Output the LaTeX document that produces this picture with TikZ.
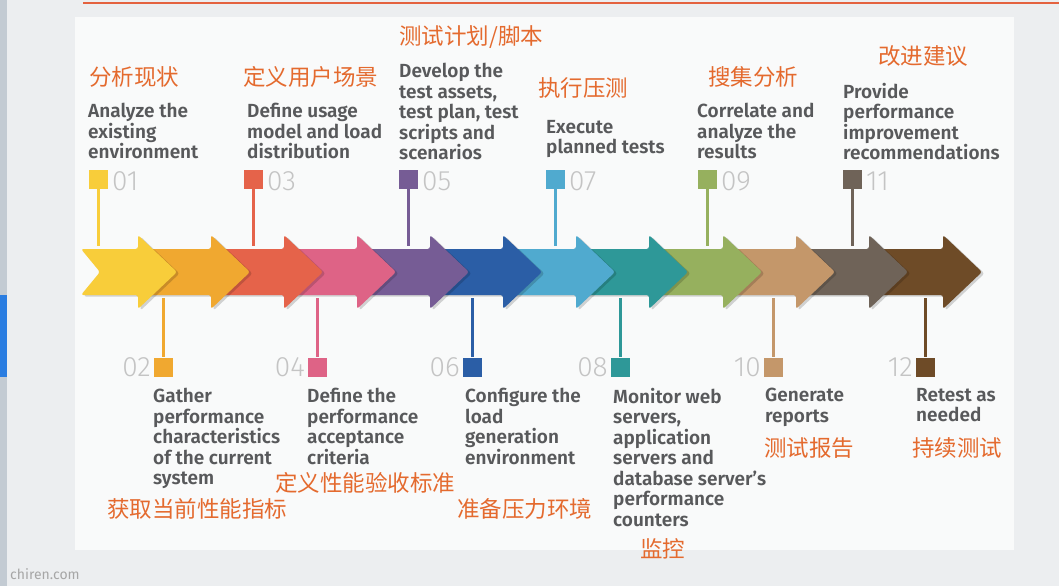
\documentclass[tikz,border=0pt]{standalone}
\usepackage{fontspec}
\setmainfont{Fira Sans}[BoldFont={* SemiBold}]
\newfontfamily\cjk{Noto Sans CJK SC}
\newfontfamily\numfont{Fira Sans}[UprightFont={* Light}]
\definecolor{bgc}{HTML}{ECEEF0}
\definecolor{cardc}{HTML}{F9FAFA}
\definecolor{stripc}{HTML}{C3CBD3}
\definecolor{bluebar}{HTML}{2A7DE1}
\definecolor{redline}{HTML}{E4623F}
\definecolor{txt}{HTML}{58595B}
\definecolor{zhc}{HTML}{E46A2E}
\definecolor{numc}{HTML}{C4C4C4}
\definecolor{c1}{HTML}{F8CD3A}
\definecolor{c2}{HTML}{F0A830}
\definecolor{c3}{HTML}{E5634A}
\definecolor{c4}{HTML}{DE6386}
\definecolor{c5}{HTML}{765C95}
\definecolor{c6}{HTML}{2B5EA6}
\definecolor{c7}{HTML}{50AACF}
\definecolor{c8}{HTML}{2E9898}
\definecolor{c9}{HTML}{96B05E}
\definecolor{c10}{HTML}{C4976A}
\definecolor{c11}{HTML}{6F6358}
\definecolor{c12}{HTML}{6E4B27}
\tikzset{
  en/.style={anchor=north west, inner sep=0pt, align=left, text=txt,
    font=\fontsize{19}{20.5}\selectfont\bfseries},
  zh/.style={anchor=west, inner sep=0pt, text=zhc, font=\cjk\fontsize{22.5}{25}\selectfont},
  numtop/.style={anchor=west, inner sep=0pt, text=numc, font=\numfont\fontsize{28}{30}\selectfont},
  numbot/.style={anchor=east, inner sep=0pt, text=numc, font=\numfont\fontsize{28}{30}\selectfont},
  sqbox/.style={minimum size=19pt, inner sep=0pt, fill=#1},
  stem/.style={line width=3pt, draw=#1},
  arrowshape/.style={fill=#1, rounded corners=2.5pt},
  shadowshape/.style={fill=black, opacity=0.16, rounded corners=2.5pt, xshift=2.5pt, yshift=-1.5pt}
}
\begin{document}
\begin{tikzpicture}[x=1pt,y=-1pt]
\useasboundingbox (0,0) rectangle (1059,586);
% background
\fill[bgc] (0,0) rectangle (1059,586);
\fill[cardc] (75,17) rectangle (1014,550);
\fill[stripc] (0,0) rectangle (7,586);
\fill[bluebar] (0,295) rectangle (7,377);
\draw[redline, line width=1.5pt] (83,3) -- (1059,3);
\node[anchor=north west, inner sep=0pt, text=black!35, font=\fontsize{14}{15}\selectfont] (wm) at (10,568) {chiren.com};

% arrows, drawn from last to first so earlier heads lie on top
\foreach \t/\c in {982/c12,908/c11,835/c10,762/c9,688/c8,615/c7,542/c6,469/c5,396/c4,323/c3,250/c2}{
  \fill[shadowshape] ({\t-116},249) -- ({\t-39},249) -- ({\t-39},235) -- (\t,272) -- ({\t-39},309) -- ({\t-39},295) -- ({\t-116},295) -- cycle;
  \fill[arrowshape=\c] ({\t-116},249) -- ({\t-39},249) -- ({\t-39},235) -- (\t,272) -- ({\t-39},309) -- ({\t-39},295) -- ({\t-116},295) -- cycle;
}
\fill[shadowshape] (81,249) -- (138,249) -- (138,235) -- (177,272) -- (138,309) -- (138,295) -- (81,295) -- (100,272) -- cycle;
\fill[arrowshape=c1] (81,249) -- (138,249) -- (138,235) -- (177,272) -- (138,309) -- (138,295) -- (81,295) -- (100,272) -- cycle;

% top markers
\foreach \i/\x/\c in {1/98/c1,3/253/c3,5/408/c5,7/555/c7,9/707/c9,11/852/c11}{
  \node[sqbox=\c] (s\i) at (\x,179) {};
  \coordinate (a\i) at (\x,246);
  \draw[stem=\c] (s\i.south) -- (a\i);
}
% bottom markers
\foreach \i/\x/\c in {2/163/c2,4/317/c4,6/472/c6,8/620/c8,10/773/c10,12/925/c12}{
  \node[sqbox=\c] (s\i) at (\x,367) {};
  \coordinate (a\i) at (\x,298);
  \draw[stem=\c] (a\i) -- (s\i.north);
}

% numbers
\node[numtop] (n1) at (112,181) {01};
\node[numtop] (n3) at (267,181) {03};
\node[numtop] (n5) at (422,181) {05};
\node[numtop] (n7) at (569,181) {07};
\node[numtop] (n9) at (721,181) {09};
\node[numtop] (n11) at (866,181) {11};
\node[numbot] (n2) at (151,367) {02};
\node[numbot] (n4) at (305,367) {04};
\node[numbot] (n6) at (460,367) {06};
\node[numbot] (n8) at (608,367) {08};
\node[numbot] (n10) at (761,367) {10};
\node[numbot] (n12) at (913,367) {12};

% top texts
\node[en] (t1) at (88,103) {Analyze the\\existing\\environment};
\node[en] (t3) at (247,103) {Define usage\\model and load\\distribution};
\node[en] (t5) at (399,63) {Develop the\\test assets,\\test plan, test\\scripts and\\scenarios};
\node[en] (t7) at (546,120) {Execute\\planned tests};
\node[en] (t9) at (697,103) {Correlate and\\analyze the\\results};
\node[en] (t11) at (843,83) {Provide\\performance\\improvement\\recommendations};

\node[zh] (z1) at (89,77) {分析现状};
\node[zh] (z3) at (243,77) {定义用户场景};
\node[zh] (z5) at (399,37) {测试计划/脚本};
\node[zh] (z7) at (538,88) {执行压测};
\node[zh] (z9) at (708,77) {搜集分析};
\node[zh] (z11) at (878,56) {改进建议};

% bottom texts
\node[en] (t2) at (153,388) {Gather\\performance\\characteristics\\of the current\\system};
\node[en] (t4) at (307,388) {Define the\\performance\\acceptance\\criteria};
\node[en] (t6) at (465,388) {Configure the\\load\\generation\\environment};
\node[en] (t8) at (613,388) {Monitor web\\servers,\\application\\servers and\\database server’s\\performance\\counters};
\node[en] (t10) at (765,388) {Generate\\reports};
\node[en] (t12) at (916,388) {Retest as\\needed};

\node[zh] (z2) at (107,509) {获取当前性能指标};
\node[zh] (z4) at (275,483) {定义性能验收标准};
\node[zh] (z6) at (457,509) {准备压力环境};
\node[zh] (z8) at (640,549) {监控};
\node[zh] (z10) at (764,448) {测试报告};
\node[zh] (z12) at (912,448) {持续测试};
\end{tikzpicture}
\end{document}
